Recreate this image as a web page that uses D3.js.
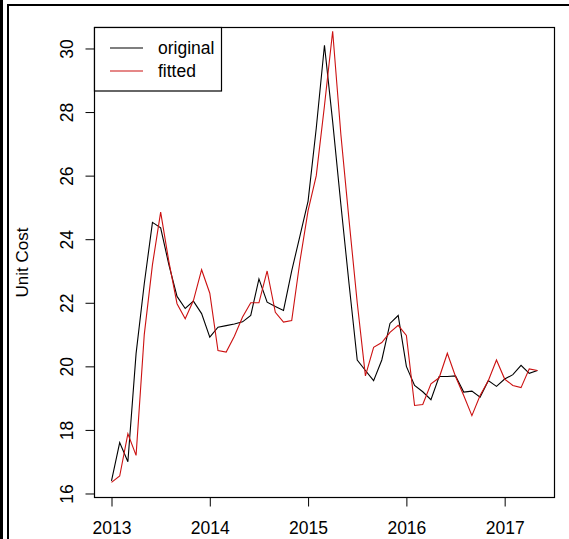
<!DOCTYPE html>
<html>
<head>
<meta charset="utf-8">
<script src="https://cdn.jsdelivr.net/npm/d3@7"></script>
<style>
  body { margin: 0; background: #fff; }
  text { font-family: "Liberation Sans", Arial, sans-serif; fill: #000; }
</style>
</head>
<body>
<div id="chart"></div>
<script>
// monthly unit cost, jan 2013 - may 2017

var startYear = 2013;

var original = [16.4, 17.6, 17.0, 20.4, 22.6, 24.53, 24.36, 23.2, 22.2, 21.82,
  22.05, 21.66, 20.92, 21.23, 21.28, 21.33, 21.4, 21.6, 22.75, 22.02,
  21.88, 21.76, 23.0, 24.1, 25.2, 27.5, 30.1, 27.7, 25.1, 22.6,
  20.2, 19.87, 19.55, 20.2, 21.35, 21.6, 20.0, 19.4, 19.2, 18.95,
  19.68, 19.68, 19.7, 19.19, 19.22, 19.03, 19.55, 19.37, 19.6, 19.74,
  20.03, 19.78, 19.87];

var fitted = [16.35, 16.55, 17.88, 17.2, 21.0, 23.2, 24.85, 23.3, 21.97, 21.5,
  22.07, 23.04, 22.3, 20.5, 20.45, 20.95, 21.55, 22.0, 22.0, 23.0,
  21.7, 21.39, 21.44, 23.3, 24.9, 26.0, 28.2, 30.54, 27.3, 24.6,
  22.0, 19.7, 20.6, 20.75, 21.07, 21.29, 20.97, 18.77, 18.8, 19.45,
  19.64, 20.41, 19.68, 19.08, 18.45, 19.08, 19.55, 20.2, 19.6, 19.4,
  19.33, 19.92, 19.87];

var xTicks = [2013, 2014, 2015, 2016, 2017];
var yTicks = [16, 18, 20, 22, 24, 26, 28, 30];

var seriesNames = ['original', 'fitted'];
var seriesColors = ['#000000', '#cc1111'];

// svg area
var svgWidth = 569;
var svgHeight = 539;

var box = { left: 94.5, right: 554.5, top: 27.5, bottom: 497.5 };

var svg = d3.select('#chart')
  .append('svg')
  .attr('width', svgWidth)
  .attr('height', svgHeight);

// window frame lines on the left and top
svg.append('rect').attr('x', 0).attr('y', 0).attr('width', 3).attr('height', svgHeight).attr('fill', '#000');
svg.append('rect').attr('x', 7).attr('y', 4).attr('width', 2).attr('height', svgHeight).attr('fill', '#000');
svg.append('rect').attr('x', 7).attr('y', 4).attr('width', svgWidth - 7).attr('height', 2).attr('fill', '#000');

// scales
var xScale = d3.scaleLinear()
  .domain([2012.827, 2017.507])
  .range([box.left, box.right]);

var yScale = d3.scaleLinear()
  .domain([15.874, 30.66])
  .range([box.bottom, box.top]);

// x axis
var xAxis = svg.append('g')
  .attr('transform', `translate(0, ${box.bottom})`)
  .call(d3.axisBottom(xScale).tickValues(xTicks).tickSize(9).tickFormat(d3.format('d')));

xAxis.select('.domain').remove();
xAxis.selectAll('line').attr('stroke', '#000');
xAxis.selectAll('text')
  .attr('y', 36)
  .attr('dy', null)
  .style('font-size', '17.5px')
  .style('font-family', '"Liberation Sans", Arial, sans-serif');

// y axis, labels turned like R does
var yAxis = svg.append('g')
  .attr('transform', `translate(${box.left}, 0)`)
  .call(d3.axisLeft(yScale).tickValues(yTicks).tickSize(9));

yAxis.select('.domain').remove();
yAxis.selectAll('line').attr('stroke', '#000');
yAxis.selectAll('text')
  .attr('x', null)
  .attr('dy', null)
  .attr('text-anchor', 'middle')
  .attr('transform', 'translate(-22, 0) rotate(-90)')
  .style('font-size', '17.5px')
  .style('font-family', '"Liberation Sans", Arial, sans-serif');

// axis title
svg.append('text')
  .attr('transform', `translate(28, ${(box.top + box.bottom) / 2}) rotate(-90)`)
  .attr('text-anchor', 'middle')
  .style('font-size', '17px')
  .text('Unit Cost');

// the lines
var line = d3.line()
  .x((d, i) => xScale(startYear + i / 12))
  .y(d => yScale(d));

[original, fitted].forEach(function (series, k) {
  svg.append('path')
    .datum(series)
    .attr('fill', 'none')
    .attr('stroke', seriesColors[k])
    .attr('stroke-width', 1.1)
    .attr('d', line);
});

// plot box
svg.append('rect')
  .attr('x', box.left)
  .attr('y', box.top)
  .attr('width', box.right - box.left)
  .attr('height', box.bottom - box.top)
  .attr('fill', 'none')
  .attr('stroke', '#000')
  .attr('stroke-width', 1.2);

// legend, top left corner
var legend = svg.append('g');

legend.append('rect')
  .attr('x', box.left)
  .attr('y', box.top)
  .attr('width', 127)
  .attr('height', 63.5)
  .attr('fill', '#fff')
  .attr('stroke', '#000')
  .attr('stroke-width', 1.2);

seriesNames.forEach(function (name, k) {
  var ly = 48 + k * 23;
  legend.append('line')
    .attr('x1', 110)
    .attr('x2', 143)
    .attr('y1', ly)
    .attr('y2', ly)
    .attr('stroke', seriesColors[k])
    .attr('stroke-width', 1.1);
  legend.append('text')
    .attr('x', 158)
    .attr('y', ly + 6)
    .style('font-size', '17.5px')
    .text(name);
});
</script>
</body>
</html>
